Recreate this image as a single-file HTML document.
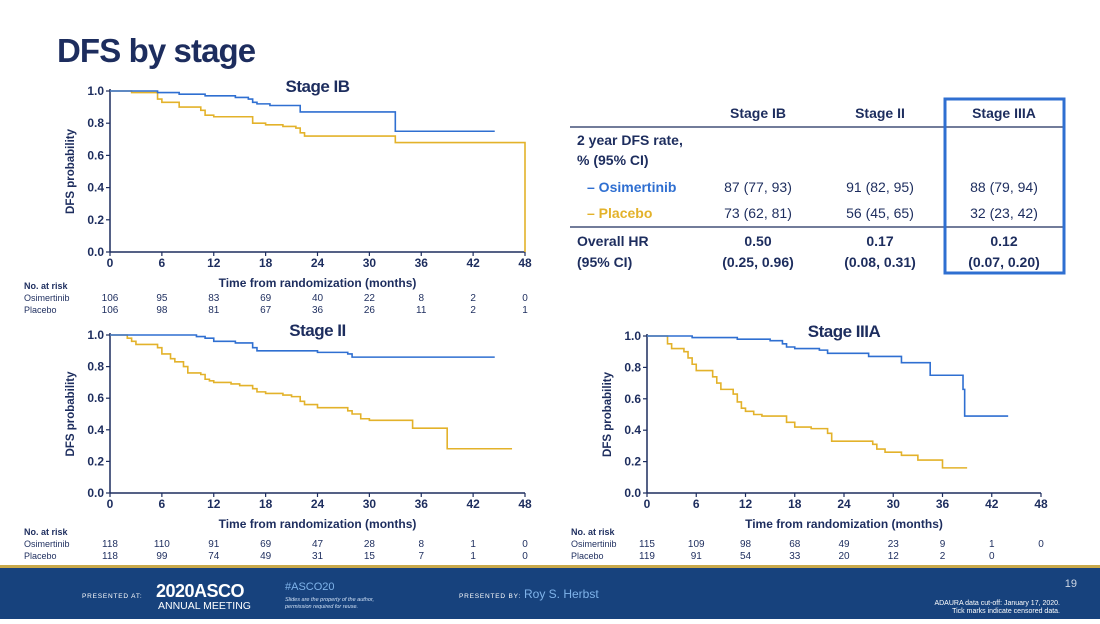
<!DOCTYPE html>
<html><head><meta charset="utf-8"><style>
body{margin:0;width:1100px;height:619px;overflow:hidden;background:#fff;font-family:"Liberation Sans",sans-serif;}
svg text{font-family:"Liberation Sans",sans-serif;}
</style></head><body>
<svg id="s" width="1100" height="619" viewBox="0 0 1100 619">
<rect x="0" y="0" width="1100" height="619" fill="#fff"/>
<text x="57" y="62" font-size="33" font-weight="bold" fill="#1d2d5e" letter-spacing="-0.9">DFS by stage</text>
<g id="tbl" font-size="14" fill="#1d2d5e">
<text x="758" y="118" text-anchor="middle" font-weight="bold">Stage IB</text>
<text x="880" y="118" text-anchor="middle" font-weight="bold">Stage II</text>
<text x="1004" y="118" text-anchor="middle" font-weight="bold">Stage IIIA</text>
<line x1="570" y1="127" x2="1064" y2="127" stroke="#1d2d5e" stroke-width="1.2"/>
<line x1="570" y1="227" x2="1064" y2="227" stroke="#1d2d5e" stroke-width="1.2"/>
<rect x="945" y="99" width="119" height="174" fill="none" stroke="#2f6fd1" stroke-width="3"/>
<text x="577" y="145" font-weight="bold">2 year DFS rate,</text>
<text x="577" y="165" font-weight="bold">% (95% CI)</text>
<text x="587" y="192" font-weight="bold" fill="#2f6fd1">– Osimertinib</text>
<text x="587" y="218" font-weight="bold" fill="#e3b22a">– Placebo</text>
<text x="758" y="192" text-anchor="middle">87 (77, 93)</text>
<text x="880" y="192" text-anchor="middle">91 (82, 95)</text>
<text x="1004" y="192" text-anchor="middle">88 (79, 94)</text>
<text x="758" y="218" text-anchor="middle">73 (62, 81)</text>
<text x="880" y="218" text-anchor="middle">56 (45, 65)</text>
<text x="1004" y="218" text-anchor="middle">32 (23, 42)</text>
<text x="577" y="246" font-weight="bold">Overall HR</text>
<text x="577" y="267" font-weight="bold">(95% CI)</text>
<text x="758" y="246" text-anchor="middle" font-weight="bold">0.50</text>
<text x="880" y="246" text-anchor="middle" font-weight="bold">0.17</text>
<text x="1004" y="246" text-anchor="middle" font-weight="bold">0.12</text>
<text x="758" y="267" text-anchor="middle" font-weight="bold">(0.25, 0.96)</text>
<text x="880" y="267" text-anchor="middle" font-weight="bold">(0.08, 0.31)</text>
<text x="1004" y="267" text-anchor="middle" font-weight="bold">(0.07, 0.20)</text>
</g>
<g>
<rect x="0" y="565" width="1100" height="3" fill="#c9a94a"/>
<rect x="0" y="568" width="1100" height="51" fill="#17427d"/>
<text x="82" y="598" font-size="6.5" fill="#fff" letter-spacing="0.8">PRESENTED AT:</text>
<text x="156" y="597" font-size="18" fill="#fff" font-weight="bold" letter-spacing="-0.5">2020ASCO</text>
<text x="158" y="609" font-size="10.5" fill="#fff">ANNUAL MEETING</text>
<text x="285" y="590" font-size="11" fill="#7fb3ea">#ASCO20</text>
<text x="285" y="601" font-size="5.5" fill="#cfe0f5" font-style="italic">Slides are the property of the author,</text>
<text x="285" y="608" font-size="5.5" fill="#cfe0f5" font-style="italic">permission required for reuse.</text>
<text x="459" y="598" font-size="6.5" fill="#fff" letter-spacing="0.8">PRESENTED BY:</text>
<text x="524" y="598" font-size="12" fill="#7fb3ea">Roy S. Herbst</text>
<text x="1077" y="587" font-size="11" fill="#cfd8e6" text-anchor="end">19</text>
<text x="1060" y="605" font-size="7" fill="#fff" text-anchor="end">ADAURA data cut-off: January 17, 2020.</text>
<text x="1060" y="613" font-size="7" fill="#fff" text-anchor="end">Tick marks indicate censored data.</text>
</g>
</svg>
<script>
// ---- data ----
const xTicks=[0,6,12,18,24,30,36,42,48];
const yTicks=[0,0.2,0.4,0.6,0.8,1.0];
const ibOsimT=[0,2.5,5.5,8,11,14.5,16,16.5,17,18.5,22,33,44.5];
const ibOsimS=[1,1,0.99,0.98,0.97,0.96,0.95,0.93,0.92,0.91,0.87,0.75,0.75];
const ibPlaT=[0,2.5,5.5,6,8,10.5,11,12,16.5,18,20,21.5,22,22.5,33,48,48];
const ibPlaS=[1,0.99,0.95,0.93,0.9,0.88,0.85,0.84,0.8,0.79,0.78,0.77,0.74,0.72,0.68,0.68,0];
const iiOsimT=[0,10,11,12,14.5,16.5,17,22.5,24,27.5,28,44.5];
const iiOsimS=[1,0.99,0.98,0.96,0.95,0.92,0.9,0.9,0.89,0.88,0.86,0.86];
const iiPlaT=[0,2,2.5,3,5.5,6,7,7.5,8.5,9,10.5,11,11.5,12,14,15,16.5,17,18,20,21,22,22.5,24,27.5,28,29,30,35,39,46.5];
const iiPlaS=[1,0.98,0.96,0.94,0.92,0.88,0.85,0.83,0.8,0.76,0.75,0.72,0.71,0.7,0.69,0.68,0.66,0.64,0.63,0.62,0.61,0.58,0.56,0.54,0.52,0.5,0.47,0.46,0.41,0.28,0.28];
const iiiaOsimT=[0,5.5,11,15,16.5,17,18,21,22,27,31,34.5,38.5,38.7,44];
const iiiaOsimS=[1,0.99,0.98,0.97,0.95,0.93,0.92,0.91,0.89,0.87,0.83,0.75,0.66,0.49,0.49];
const iiiaPlaT=[0,2.5,3,4.5,5,5.5,6,8,8.5,9,10.5,11,11.5,12,13,14,17,18,20,22,22.5,27.5,28,29,31,33,36,39];
const iiiaPlaS=[1,0.95,0.92,0.9,0.86,0.82,0.78,0.74,0.7,0.66,0.63,0.58,0.54,0.52,0.5,0.49,0.45,0.42,0.41,0.38,0.33,0.31,0.28,0.26,0.24,0.21,0.16,0.16];
const ibRiskOsim=[106,95,83,69,40,22,8,2,0];
const ibRiskPla=[106,98,81,67,36,26,11,2,1];
const iiRiskOsim=[118,110,91,69,47,28,8,1,0];
const iiRiskPla=[118,99,74,49,31,15,7,1,0];
const iiiaRiskOsim=[115,109,98,68,49,23,9,1,0];
const iiiaRiskPla=[119,91,54,33,20,12,2,0];

const NS="http://www.w3.org/2000/svg";
const svg=document.getElementById('s');
function mk(tag,attrs,parent,txt){const e=document.createElementNS(NS,tag);for(const k in attrs)e.setAttribute(k,attrs[k]);if(txt!==undefined)e.textContent=txt;(parent||svg).appendChild(e);return e;}
const NAVY="#1d2d5e",BLUE="#2f6fd1",GOLD="#e3b22a";
function chart(id,title,L,R,T,B,series,riskO,riskP,riskY,labX){
  const g=mk('g',{});
  
  
  const sx=t=>L+(R-L)*t/48, sy=v=>B-(B-T)*v;
  mk('line',{x1:L,y1:T-2,x2:L,y2:B,stroke:NAVY,'stroke-width':1.5},g);
  mk('line',{x1:L,y1:B,x2:R,y2:B,stroke:NAVY,'stroke-width':1.5},g);
  yTicks.forEach(v=>{mk('line',{x1:L-4,y1:sy(v),x2:L,y2:sy(v),stroke:NAVY,'stroke-width':1.2},g);
    const t=mk('text',{x:L-6,y:sy(v)+4,'font-size':12,'font-weight':'bold',fill:NAVY,'text-anchor':'end'},g,v.toFixed(1));
    });
  xTicks.forEach(v=>{mk('line',{x1:sx(v),y1:B,x2:sx(v),y2:B+4,stroke:NAVY,'stroke-width':1.2},g);
    const t=mk('text',{x:sx(v),y:B+15,'font-size':12,'font-weight':'bold',fill:NAVY,'text-anchor':'middle'},g,v);
    });
  const tt=mk('text',{x:(L+R)/2,y:T+1,'font-size':17,'font-weight':'bold',fill:NAVY,'text-anchor':'middle','letter-spacing':-0.5},g,title);
  
  const yt=mk('text',{x:0,y:0,'font-size':11.5,'font-weight':'bold',fill:NAVY,'text-anchor':'middle',transform:`translate(${L-36},${(T+B)/2}) rotate(-90)`},g,'DFS probability');
  
  const xt=mk('text',{x:(L+R)/2,y:B+35,'font-size':12,'font-weight':'bold',fill:NAVY,'text-anchor':'middle'},g,'Time from randomization (months)');
  
  series.forEach(s=>{
    let d=`M${sx(s.t[0])},${sy(s.s[0])}`;
    for(let i=1;i<s.t.length;i++){d+=` H${sx(s.t[i])} V${sy(s.s[i])}`;}
    const p=mk('path',{d:d,fill:'none',stroke:s.c,'stroke-width':1.6},g);
    
    
  });
  const lb=mk('text',{x:labX,y:riskY-11,'font-size':9,'font-weight':'bold',fill:NAVY},g,'No. at risk');
  
  mk('text',{x:labX,y:riskY+1,'font-size':9,fill:NAVY},g,'Osimertinib');
  mk('text',{x:labX,y:riskY+13,'font-size':9,fill:NAVY},g,'Placebo');
  riskO.forEach((v,i)=>{const t=mk('text',{x:sx(xTicks[i]),y:riskY+1,'font-size':10,fill:NAVY,'text-anchor':'middle'},g,v);
    });
  riskP.forEach((v,i)=>{const t=mk('text',{x:sx(xTicks[i]),y:riskY+13,'font-size':10,fill:NAVY,'text-anchor':'middle'},g,v);
    });
}
chart('stage-ib','Stage IB',110,525,91,252,
 [{t:ibPlaT,s:ibPlaS,c:GOLD,n:'placebo-curve'},{t:ibOsimT,s:ibOsimS,c:BLUE,n:'osimertinib-curve'}],
 ibRiskOsim,ibRiskPla,300,24);
chart('stage-ii','Stage II',110,525,335,493,
 [{t:iiPlaT,s:iiPlaS,c:GOLD,n:'placebo-curve'},{t:iiOsimT,s:iiOsimS,c:BLUE,n:'osimertinib-curve'}],
 iiRiskOsim,iiRiskPla,546,24);
chart('stage-iiia','Stage IIIA',647,1041,336,493,
 [{t:iiiaPlaT,s:iiiaPlaS,c:GOLD,n:'placebo-curve'},{t:iiiaOsimT,s:iiiaOsimS,c:BLUE,n:'osimertinib-curve'}],
 iiiaRiskOsim,iiiaRiskPla,546,571);
</script>
</body></html>
